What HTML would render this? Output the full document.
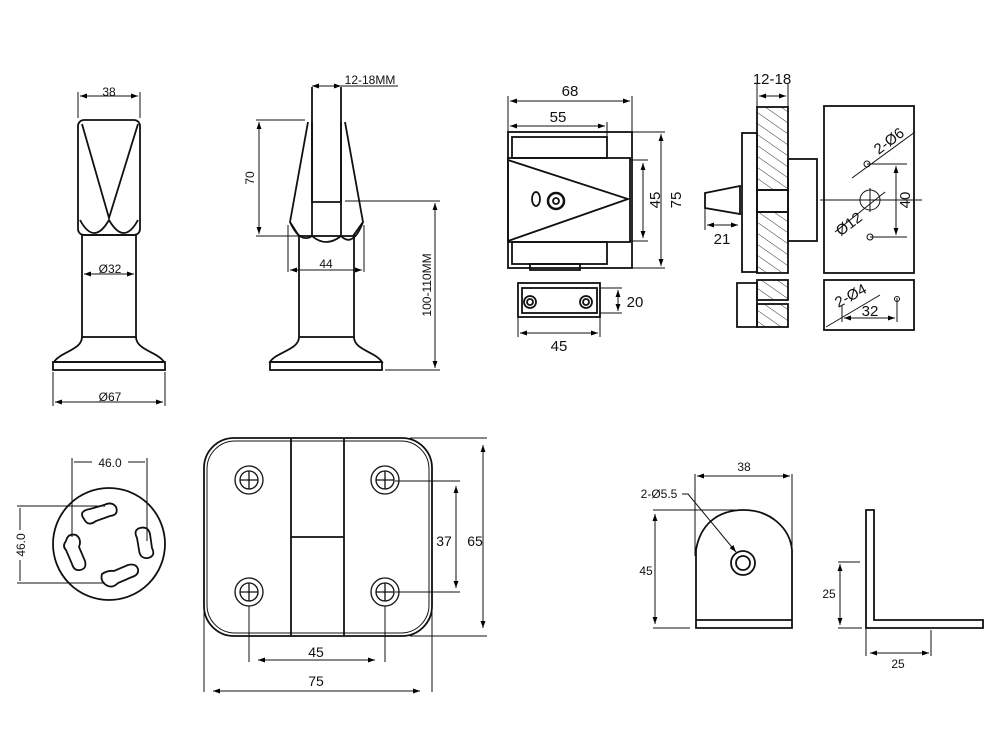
<!DOCTYPE html>
<html><head><style>html,body{margin:0;padding:0;background:#fff}svg{display:block}</style></head><body>
<svg width="999" height="749" viewBox="0 0 999 749" xmlns="http://www.w3.org/2000/svg" font-family="Liberation Sans, Arial, sans-serif">
<defs>
<marker id="a" viewBox="0 0 10 10" refX="10" refY="5" markerWidth="7" markerHeight="7" orient="auto-start-reverse"><path d="M0,1.5L10,5L0,8.5z" fill="#000"/></marker>
<pattern id="h" width="9" height="9" patternUnits="userSpaceOnUse" patternTransform="rotate(-55)"><line x1="0" y1="0" x2="0" y2="9" stroke="#333" stroke-width="1"/></pattern>
</defs>
<g fill="none" stroke="#111" stroke-width="1.8">
<!-- left post -->
<rect x="78" y="120" width="62" height="115" rx="6"/>
<path d="M82,124L109,218L138,124"/>
<path d="M80,220q14,26 29,0q15,26 29,0"/>
<rect x="82" y="235" width="54" height="102"/>
<path d="M82,337C82,350 60,352 54,362H164C158,352 136,350 136,337"/>
<rect x="53" y="362" width="112" height="8"/>
<g stroke-width="1">
<line x1="78" y1="92" x2="78" y2="118"/><line x1="140" y1="92" x2="140" y2="118"/>
<line x1="80" y1="96" x2="138" y2="96" marker-start="url(#a)" marker-end="url(#a)"/>
<line x1="84" y1="274" x2="134" y2="274" marker-start="url(#a)" marker-end="url(#a)"/>
<line x1="53" y1="372" x2="53" y2="406"/><line x1="165" y1="372" x2="165" y2="406"/>
<line x1="55" y1="402" x2="163" y2="402" marker-start="url(#a)" marker-end="url(#a)"/>
</g>
<!-- right post -->
<path d="M312,87V202H341V87"/>
<path d="M308,122L290,222L299,236M312,122V236M341,122V236M345,122L363,222L353,236"/>
<path d="M290,222q10,22 22,14q14,12 29,0q12,12 22,-14"/>
<rect x="299" y="236" width="55" height="101"/>
<path d="M299,337C299,350 276,352 270,362H382C376,352 354,350 354,337"/>
<rect x="270" y="362" width="112" height="8"/>
<g stroke-width="1">
<line x1="341" y1="86" x2="398" y2="86"/>
<line x1="312" y1="86" x2="341" y2="86" marker-start="url(#a)" marker-end="url(#a)"/>
<line x1="256" y1="120" x2="305" y2="120"/><line x1="256" y1="236" x2="300" y2="236"/>
<line x1="259" y1="122" x2="259" y2="234" marker-start="url(#a)" marker-end="url(#a)"/>
<line x1="288" y1="225" x2="288" y2="272"/><line x1="364" y1="225" x2="364" y2="272"/>
<line x1="290" y1="270" x2="362" y2="270" marker-start="url(#a)" marker-end="url(#a)"/>
<line x1="345" y1="201" x2="440" y2="201"/><line x1="385" y1="370" x2="440" y2="370"/>
<line x1="435" y1="203" x2="435" y2="368" marker-start="url(#a)" marker-end="url(#a)"/>
</g>
<!-- latch front -->
<rect x="508" y="132" width="124" height="136"/>
<rect x="512" y="137" width="95" height="21"/>
<rect x="508" y="158" width="122" height="84"/>
<path d="M508,160L628,199L508,241"/>
<rect x="512" y="242" width="95" height="22"/>
<rect x="530" y="264" width="50" height="6"/>
<ellipse cx="536" cy="199" rx="4" ry="7"/>
<circle cx="556" cy="201" r="8" stroke-width="2.5"/><circle cx="556" cy="201" r="3"/>
<g stroke-width="1">
<line x1="508" y1="96" x2="508" y2="132"/><line x1="632" y1="96" x2="632" y2="132"/><line x1="607" y1="122" x2="607" y2="137"/>
<line x1="510" y1="101" x2="630" y2="101" marker-start="url(#a)" marker-end="url(#a)"/>
<line x1="510" y1="126" x2="605" y2="126" marker-start="url(#a)" marker-end="url(#a)"/>
<line x1="632" y1="132" x2="665" y2="132"/><line x1="580" y1="268" x2="665" y2="268"/>
<line x1="661" y1="134" x2="661" y2="266" marker-start="url(#a)" marker-end="url(#a)"/>
<line x1="630" y1="160" x2="648" y2="160"/><line x1="630" y1="241" x2="648" y2="241"/>
<line x1="643" y1="163" x2="643" y2="238" marker-start="url(#a)" marker-end="url(#a)"/>
</g>
<rect x="518" y="283" width="82" height="34"/>
<rect x="522" y="288" width="75" height="25"/>
<circle cx="530" cy="302" r="6"/><circle cx="530" cy="302" r="3"/>
<circle cx="586" cy="302" r="6"/><circle cx="586" cy="302" r="3"/>
<g stroke-width="1">
<line x1="600" y1="288" x2="622" y2="288"/><line x1="600" y1="313" x2="622" y2="313"/>
<line x1="618" y1="290" x2="618" y2="311" marker-start="url(#a)" marker-end="url(#a)"/>
<line x1="518" y1="317" x2="518" y2="337"/><line x1="600" y1="317" x2="600" y2="337"/>
<line x1="520" y1="333" x2="598" y2="333" marker-start="url(#a)" marker-end="url(#a)"/>
</g>
<!-- side view -->
<rect x="757" y="107" width="31" height="83" fill="url(#h)"/>
<rect x="757" y="212" width="31" height="61" fill="url(#h)"/>
<rect x="757" y="190" width="31" height="22"/>
<rect x="757" y="280" width="31" height="20" fill="url(#h)"/>
<rect x="757" y="304" width="31" height="23" fill="url(#h)"/>
<rect x="742" y="133" width="15" height="139"/>
<rect x="788" y="159" width="29" height="82"/>
<path d="M705,193L740,186V214L705,208Z"/>
<path d="M737,283H757V327H737Z"/>
<g stroke-width="1">
<line x1="757" y1="84" x2="757" y2="107"/><line x1="788" y1="84" x2="788" y2="107"/>
<line x1="759" y1="96" x2="786" y2="96" marker-start="url(#a)" marker-end="url(#a)"/>
<line x1="705" y1="208" x2="705" y2="230"/>
<line x1="707" y1="225" x2="738" y2="225" marker-start="url(#a)" marker-end="url(#a)"/>
</g>
<rect x="824" y="106" width="90" height="167"/>
<rect x="824" y="280" width="90" height="50"/>
<g stroke-width="1">
<line x1="820" y1="200" x2="922" y2="200"/>
<circle cx="870" cy="200" r="10"/><line x1="870" y1="188" x2="870" y2="212"/>
<circle cx="867" cy="164" r="3"/><line x1="867" y1="164" x2="907" y2="164"/>
<circle cx="870" cy="237" r="3"/><line x1="870" y1="237" x2="907" y2="237"/>
<line x1="896" y1="166" x2="896" y2="235" marker-start="url(#a)" marker-end="url(#a)"/>
<line x1="852" y1="178" x2="915" y2="132"/>
<line x1="835" y1="232" x2="885" y2="192"/>
<line x1="826" y1="327" x2="880" y2="295"/>
<line x1="842" y1="306" x2="842" y2="322"/><line x1="897" y1="298" x2="897" y2="322"/>
<circle cx="897" cy="299" r="2.5"/>
<line x1="844" y1="318" x2="895" y2="318" marker-start="url(#a)" marker-end="url(#a)"/>
</g>
<!-- round plate -->
<circle cx="109" cy="544" r="56"/>
<path d="M84,519 q-6,-8 6,-10 l14,-4 q8,-4 12,2 q3,8 -6,9 l-14,5 q-8,6 -12,-2z"/>
<path d="M140,528 q8,-2 10,6 l2,14 q4,8 -4,10 q-8,1 -9,-8 l-2,-12 q-4,-8 3,-10z"/>
<path d="M66,541 q2,-8 10,-6 q6,4 3,12 l6,14 q2,8 -5,9 q-6,1 -8,-6 l-6,-14 q-4,-4 0,-9z"/>
<path d="M102,574 q6,-4 12,-3 l14,-6 q8,-2 10,4 q1,6 -6,8 l-14,6 q-6,6 -12,2 q-6,-4 -4,-11z"/>
<g stroke-width="1">
<line x1="72" y1="458" x2="72" y2="537"/><line x1="147" y1="458" x2="147" y2="541"/>
<line x1="74" y1="462" x2="92" y2="462"/><line x1="128" y1="462" x2="145" y2="462"/>
<line x1="17" y1="506" x2="105" y2="506"/><line x1="17" y1="583" x2="105" y2="583"/>
<line x1="20" y1="508" x2="20" y2="530"/><line x1="20" y1="560" x2="20" y2="581"/>
</g>
<!-- hinge -->
<rect x="204" y="438" width="228" height="198" rx="30"/>
<rect x="207" y="441" width="222" height="192" rx="28" stroke-width="1"/>
<path d="M291,438V537H344V636M291,537V636M344,438V537"/>
<g stroke-width="1.3">
<circle cx="249" cy="480" r="14"/><circle cx="249" cy="480" r="9"/><path d="M240,480h18M249,471v18"/>
<circle cx="385" cy="480" r="14"/><circle cx="385" cy="480" r="9"/><path d="M376,480h18M385,471v18"/>
<circle cx="249" cy="592" r="14"/><circle cx="249" cy="592" r="9"/><path d="M240,592h18M249,583v18"/>
<circle cx="385" cy="592" r="14"/><circle cx="385" cy="592" r="9"/><path d="M376,592h18M385,583v18"/>
</g>
<g stroke-width="1">
<line x1="395" y1="481" x2="460" y2="481"/><line x1="395" y1="592" x2="460" y2="592"/>
<line x1="456" y1="486" x2="456" y2="588" marker-start="url(#a)" marker-end="url(#a)"/>
<line x1="410" y1="438" x2="487" y2="438"/><line x1="410" y1="636" x2="487" y2="636"/>
<line x1="483" y1="445" x2="483" y2="628" marker-start="url(#a)" marker-end="url(#a)"/>
<line x1="249" y1="606" x2="249" y2="662"/><line x1="385" y1="606" x2="385" y2="662"/>
<line x1="258" y1="660" x2="375" y2="660" marker-start="url(#a)" marker-end="url(#a)"/>
<line x1="204" y1="610" x2="204" y2="692"/><line x1="432" y1="610" x2="432" y2="692"/>
<line x1="213" y1="691" x2="420" y2="691" marker-start="url(#a)" marker-end="url(#a)"/>
</g>
<!-- bracket front -->
<path d="M696,550V628H792V550"/>
<path d="M696,550C700,526 716,510 744,510C770,510 790,528 792,550"/>
<line x1="696" y1="620" x2="792" y2="620"/>
<circle cx="743" cy="563" r="12"/><circle cx="743" cy="563" r="7"/>
<g stroke-width="1">
<line x1="695" y1="474" x2="695" y2="556"/><line x1="792" y1="474" x2="792" y2="550"/>
<line x1="697" y1="476" x2="790" y2="476" marker-start="url(#a)" marker-end="url(#a)"/>
<line x1="653" y1="510" x2="745" y2="510"/><line x1="653" y1="628" x2="690" y2="628"/>
<line x1="655" y1="514" x2="655" y2="624" marker-start="url(#a)" marker-end="url(#a)"/>
<path d="M682,494H688L736,552" marker-end="url(#a)"/>
</g>
<!-- L bracket -->
<path d="M866,510V628H983V620H874V510Z"/>
<g stroke-width="1">
<line x1="838" y1="562" x2="860" y2="562"/><line x1="838" y1="628" x2="862" y2="628"/>
<line x1="840" y1="564" x2="840" y2="625" marker-start="url(#a)" marker-end="url(#a)"/>
<line x1="866" y1="628" x2="866" y2="656"/><line x1="931" y1="630" x2="931" y2="656"/>
<line x1="870" y1="653" x2="929" y2="653" marker-start="url(#a)" marker-end="url(#a)"/>
</g>
</g>
<g font-size="13" fill="#111" text-anchor="middle">
<text x="109" y="96" font-size="12">38</text>
<text x="110" y="273" font-size="12">Ø32</text>
<text x="110" y="401" font-size="12">Ø67</text>
<text x="370" y="84" font-size="12">12-18MM</text>
<text x="326" y="268" font-size="12">44</text>
<text transform="translate(254,178) rotate(-90)" font-size="12">70</text>
<text transform="translate(431,285) rotate(-90)" font-size="12">100-110MM</text>
<text x="570" y="96" font-size="15">68</text>
<text x="558" y="122" font-size="15">55</text>
<text transform="translate(681,200) rotate(-90)" font-size="15">75</text>
<text transform="translate(660,200) rotate(-90)" font-size="15">45</text>
<text x="635" y="307" font-size="15">20</text>
<text x="559" y="351" font-size="15">45</text>
<text x="772" y="84" font-size="15">12-18</text>
<text x="722" y="244" font-size="15">21</text>
<text transform="translate(892,145) rotate(-37)" font-size="15">2-Ø6</text>
<text transform="translate(852,228) rotate(-37)" font-size="15">Ø12</text>
<text transform="translate(910,200) rotate(-90)" font-size="15">40</text>
<text transform="translate(853,300) rotate(-28)" font-size="15">2-Ø4</text>
<text x="870" y="316" font-size="15">32</text>
<text x="110" y="467" font-size="12">46.0</text>
<text transform="translate(25,545) rotate(-90)" font-size="12">46.0</text>
<text x="444" y="546" font-size="14">37</text>
<text x="475" y="546" font-size="14">65</text>
<text x="316" y="657" font-size="14">45</text>
<text x="316" y="686" font-size="14">75</text>
<text x="744" y="471" font-size="12">38</text>
<text x="659" y="498" font-size="12">2-Ø5.5</text>
<text x="646" y="575" font-size="12">45</text>
<text x="829" y="598" font-size="12">25</text>
<text x="898" y="668" font-size="12">25</text>
</g>
</svg>
</body></html>
